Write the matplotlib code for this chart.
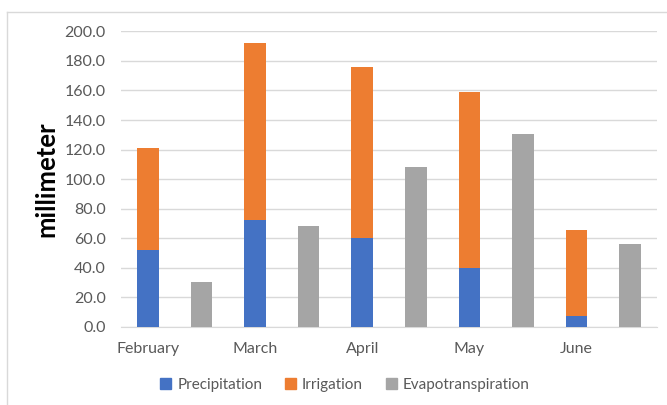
import matplotlib
matplotlib.use("Agg")
import matplotlib.pyplot as plt
from matplotlib.lines import Line2D
from matplotlib.patches import Patch
import numpy as np

plt.rcParams['font.family'] = ['Lato', 'DejaVu Sans']

months = ["February", "March", "April", "May", "June"]
precipitation = [52.1, 72.6, 60.5, 39.7, 7.7]
irrigation = [69.1, 119.2, 115.3, 119.2, 57.8]
evapotranspiration = [30.5, 68.2, 107.9, 130.4, 56.0]

c_prec = "#4472C4"
c_irr = "#ED7D31"
c_evap = "#A5A5A5"

fig = plt.figure(figsize=(6.67, 4.05), dpi=100)
ax = fig.add_axes([121/667, 78/405, (657-121)/667, (327-31.3)/405])

n = len(months)
x_stack = np.arange(n) * 2
x_evap = x_stack + 1
w = 0.4

ax.bar(x_stack, precipitation, w, color=c_prec, zorder=3)
ax.bar(x_stack, irrigation, w, bottom=precipitation, color=c_irr, zorder=3)
ax.bar(x_evap, evapotranspiration, w, color=c_evap, zorder=3)

ax.set_xlim(-0.5, 2 * n - 0.5)
ax.set_ylim(0, 200)
ax.set_yticks(np.arange(0, 201, 20))
ax.set_yticklabels([f"{v:.1f}" for v in np.arange(0, 201, 20)])
ax.set_xticks(x_stack)
ax.set_xticklabels(months)
ax.tick_params(axis='both', length=0, labelsize=11.5, colors="#595959")
ax.tick_params(axis='y', pad=11)
ax.tick_params(axis='x', pad=11)
ax.grid(axis='y', color="#D9D9D9", linewidth=1, zorder=0)
for s in ["top", "right", "left"]:
    ax.spines[s].set_visible(False)
ax.spines["bottom"].set_color("#D9D9D9")

ax.set_ylabel("millimeter", fontsize=18.5, fontweight="bold", color="black")
ax.yaxis.set_label_coords((58 - 121) / 536, 0.5)

handles = [Patch(color=c_prec, label="Precipitation"),
           Patch(color=c_irr, label="Irrigation"),
           Patch(color=c_evap, label="Evapotranspiration")]
leg = fig.legend(handles=handles, loc="center", bbox_to_anchor=(345/667, 1 - 385/405),
                 ncol=3, frameon=False, fontsize=11, handlelength=0.7, handleheight=0.7,
                 handletextpad=0.4, columnspacing=1.5)
for t in leg.get_texts():
    t.set_color("#595959")

# chart area border (only left and top visible in the crop)
fig.add_artist(Line2D([7/667, 7/667], [0, 1 - 12/405], color="#D9D9D9", linewidth=1))
fig.add_artist(Line2D([7/667, 1], [1 - 12/405, 1 - 12/405], color="#D9D9D9", linewidth=1))

fig.savefig("out.png", dpi=100)
